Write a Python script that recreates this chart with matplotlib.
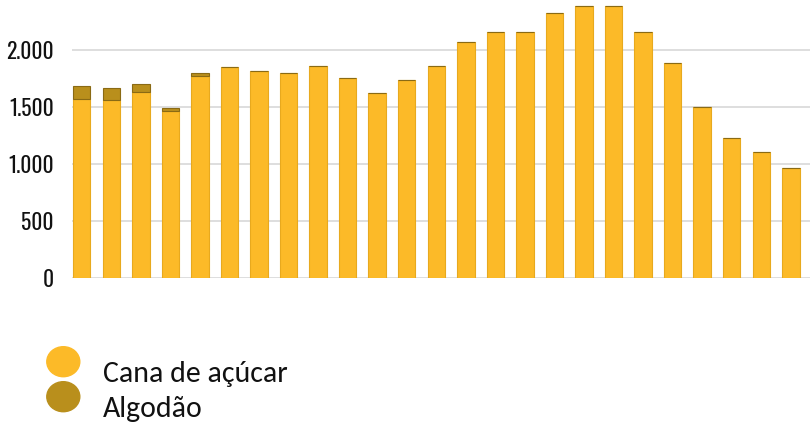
import matplotlib
matplotlib.use("Agg")
import matplotlib.pyplot as plt
from matplotlib.patches import Ellipse
from matplotlib.ticker import FuncFormatter

# Production per year (25 seasons), sugar cane and cotton stacked
cana = [1573, 1563, 1632, 1469, 1774, 1849, 1814, 1802, 1861, 1757,
        1620, 1733, 1861, 2069, 2154, 2154, 2324, 2387, 2387, 2154,
        1887, 1500, 1233, 1108, 963]
algodao = [113, 104, 66, 22, 21, 0, 0, 0, 0, 0,
           0, 0, 0, 0, 0, 0, 0, 0, 0, 0,
           0, 0, 0, 0, 0]
yticks = [0, 500, 1000, 1500, 2000]
series_names = ["Cana de açúcar", "Algodão"]

cana_color = "#FCBA28"
cana_edge = "#E8A91E"
alg_color = "#B98F1C"
alg_edge = "#8A6A14"

fig = plt.figure(figsize=(8.1, 4.24), dpi=100)
ax = fig.add_axes([0.0885, 0.3436, 0.9115, 0.6564])

x = list(range(len(cana)))
ax.bar(x, cana, width=0.59, color=cana_color, edgecolor=cana_edge, linewidth=0.8, zorder=3)
ax.bar(x, algodao, bottom=cana, width=0.59, color=alg_color, edgecolor=alg_edge,
       linewidth=0.8, zorder=3)

ax.set_xlim(-0.34, 24.65)
ax.set_ylim(0, 2438)
ax.set_yticks(yticks)
ax.yaxis.set_major_formatter(FuncFormatter(lambda v, p: f"{int(v):,}".replace(",", ".")))
ax.set_xticks([])
ax.grid(axis="y", color="#d4d4d4", linewidth=1.1, zorder=0)
for s in ax.spines.values():
    s.set_visible(False)
ax.tick_params(axis="y", length=0, pad=13, labelsize=15.5, labelcolor="#111111")
for lab in ax.get_yticklabels():
    lab.set_family(["Oswald", "Bebas Neue", "DejaVu Sans"])
    lab.set_fontweight("light")

# legend drawn by hand below the chart
colors = [cana_color, alg_color]
dots = [361.7, 396.7]
baselines = [381.7, 416.7]
for name, c, yp, yb in zip(series_names, colors, dots, baselines):
    fig.patches.append(Ellipse((63.3 / 810, 1 - yp / 424), 33 / 810, 30 / 424,
                               transform=fig.transFigure, color=c))
    fig.text(103.3 / 810, 1 - yb / 424, name, fontsize=21.5,
             family=["Carlito", "Lato", "DejaVu Sans"],
             va="baseline", ha="left", color="#111111")

fig.savefig("out.png", dpi=100)
